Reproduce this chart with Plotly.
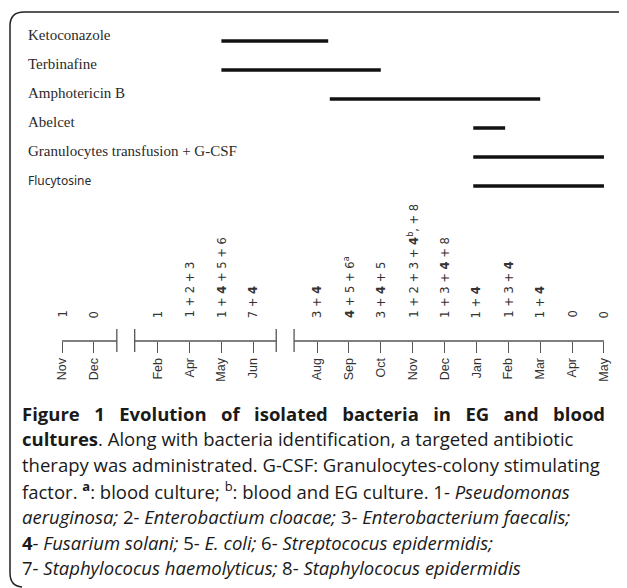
import plotly.graph_objects as go

# The page body adds an 8px margin, so the figure is sized to the rest of the window
OFF = 8
W, H = 627 - OFF, 588 - OFF

# ---------------- data ----------------
treatments = ["Ketoconazole", "Terbinafine", "Amphotericin B", "Abelcet",
              "Granulocytes transfusion + G-CSF", "Flucytosine"]
treat_start = [5.0, 5.0, 8.4, 12.9, 12.9, 12.9]
treat_end = [8.35, 10.0, 15.0, 13.9, 17.0, 17.0]

# "" marks a break in the time axis
months = ["Nov", "Dec", "", "Feb", "Apr", "May", "Jun", "", "Aug", "Sep", "Oct",
          "Nov", "Dec", "Jan", "Feb", "Mar", "Apr", "May"]
isolates = ["1", "0", "", "1", "1 + 2 + 3", "1 + <b>4</b> + 5 + 6", "7 + <b>4</b>", "",
            "3 + <b>4</b>", "<b>4</b> + 5 + 6<sup>a</sup>", "3 + <b>4</b> + 5",
            "1 + 2 + 3 + <b>4</b><sup>b</sup>, + 8", "1 + 3 + <b>4</b> + 8", "1 + <b>4</b>",
            "1 + 3 + <b>4</b>", "1 + <b>4</b>", "0", "0"]

caption_title = ["Figure", "1", "Evolution", "of", "isolated", "bacteria", "in", "EG",
                 "and", "blood"]
caption_lines = [
    "<b>cultures</b>. Along with bacteria identification, a targeted antibiotic",
    "therapy was administrated. G-CSF: Granulocytes-colony stimulating",
    "factor. <b><sup>a</sup></b>: blood culture; <sup>b</sup>: blood and EG culture. 1- <i>Pseudomonas</i>",
    "<i>aeruginosa;</i> 2- <i>Enterobactium cloacae;</i> 3- <i>Enterobacterium faecalis;</i>",
    "<b>4</b>- <i>Fusarium solani;</i> 5- <i>E. coli;</i> 6- <i>Streptococus epidermidis;</i>",
    "7- <i>Staphylococus haemolyticus;</i> 8- <i>Staphylococus epidermidis</i>",
]


def px(x):
    return (x - OFF) / W


def py(y):
    return 1 - (y - OFF) / H


SLOT = 31.88  # pixels per time slot

fig = go.Figure()

# treatment bars
for name, s, e in zip(treatments, treat_start, treat_end):
    fig.add_trace(go.Scatter(x=[s, e], y=[name, name], mode="lines",
                             line=dict(color="#111111", width=3.5),
                             xaxis="x", yaxis="y2", hoverinfo="skip",
                             showlegend=False))

# treatment labels
for name in treatments:
    fnt = dict(family="Liberation Serif", size=15, color="#2a2a2a")
    if name == "Flucytosine":
        fnt = dict(family="Noto Sans", size=12, color="#2a2a2a")
    fig.add_annotation(x=px(26), xref="paper", y=name, yref="y2", yshift=6,
                       text=name, showarrow=False, xanchor="left",
                       yanchor="middle", font=fnt)

shapes = []

# border
border = (f"M {px(625)},{py(12)} L {px(24)},{py(12)} "
          f"Q {px(10)},{py(12)} {px(10)},{py(26)} "
          f"L {px(10)},{py(573)} Q {px(10)},{py(586)} {px(22)},{py(587)}")
shapes.append(dict(type="path", path=border, xref="paper", yref="paper",
                   line=dict(color="#222222", width=1.5)))

# time axis line with breaks
axis_y = py(341)
gaps = [i for i, m in enumerate(months) if m == ""]
runs = []
start = 0
for g in gaps + [len(months)]:
    runs.append((start, g - 1, start > 0, g < len(months)))
    start = g + 1
half = 0.28
for a, b, after_gap, before_gap in runs:
    x0 = a - 1 + half if after_gap else a
    x1 = b + 1 - half if before_gap else b
    shapes.append(dict(type="line", xref="x", yref="paper", x0=x0, x1=x1,
                       y0=axis_y, y1=axis_y, line=dict(color="#555555", width=1.3)))
for g in gaps:
    for xb in (g - half, g + half):
        shapes.append(dict(type="line", xref="x", yref="paper", x0=xb, x1=xb,
                           y0=py(329), y1=py(352),
                           line=dict(color="#555555", width=1.3)))

fig.update_layout(shapes=shapes)

# isolate annotations
for i, txt in enumerate(isolates):
    if not txt:
        continue
    fig.add_annotation(x=i, xref="x", y=py(320), yref="paper", text=txt,
                       textangle=-90, showarrow=False, xanchor="center",
                       yanchor="bottom",
                       font=dict(family="DejaVu Sans", size=11.5, color="#333333"))

# caption
CAP_FONT = dict(family="Open Sans", size=18.5, color="#1a1a1a")
title = (" " + "&nbsp;" * 2).join(caption_title)
fig.add_annotation(x=px(20), xref="paper", y=py(413), yref="paper",
                   text="<b>" + title + "</b>", showarrow=False, xanchor="left",
                   yanchor="middle", font=CAP_FONT)
for k, line in enumerate(caption_lines):
    fig.add_annotation(x=px(20), xref="paper", y=py(413 + (k + 1) * 25.8), yref="paper",
                       text=line, showarrow=False, xanchor="left", yanchor="middle",
                       font=CAP_FONT)

tick_idx = [i for i, m in enumerate(months) if m]
r0 = -(62 - OFF) / SLOT
fig.update_layout(
    width=W, height=H,
    margin=dict(l=0, r=0, t=0, b=0),
    paper_bgcolor="white", plot_bgcolor="white",
    xaxis=dict(range=[r0, r0 + W / SLOT],
               tickvals=tick_idx, ticktext=[months[i] for i in tick_idx],
               tickangle=-90, ticks="outside", ticklen=11, tickwidth=1.3,
               tickcolor="#555555", showline=False, showgrid=False,
               zeroline=False, anchor="free", position=axis_y,
               tickfont=dict(family="Liberation Sans", size=12.5, color="#333333")),
    yaxis=dict(visible=False, domain=[0, 1]),
    yaxis2=dict(visible=False, type="category",
                categoryorder="array", categoryarray=treatments,
                range=[len(treatments) - 0.5, -0.5],
                domain=[py(200.5), py(26.5)], anchor="x"),
    showlegend=False,
)

fig.write_html("out.html")
